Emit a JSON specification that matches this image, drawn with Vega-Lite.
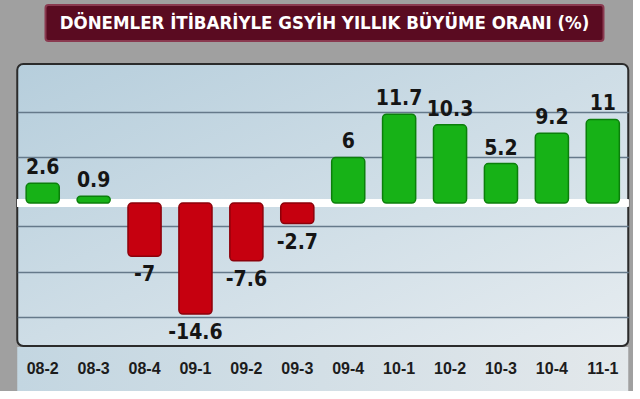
{
  "$schema": "https://vega.github.io/schema/vega-lite/v6.json",
  "background": "#a0a0a0",
  "padding": {"left": 12, "top": 4, "right": 0, "bottom": 0},
  "config": {"view": {"stroke": null}},
  "datasets": {
    "gdp": [
      {"period": "08-2", "value": 2.6},
      {"period": "08-3", "value": 0.9},
      {"period": "08-4", "value": -7},
      {"period": "09-1", "value": -14.6},
      {"period": "09-2", "value": -7.6},
      {"period": "09-3", "value": -2.7},
      {"period": "09-4", "value": 6},
      {"period": "10-1", "value": 11.7},
      {"period": "10-2", "value": 10.3},
      {"period": "10-3", "value": 5.2},
      {"period": "10-4", "value": 9.2},
      {"period": "11-1", "value": 11}
    ]
  },
  "center": true,
  "spacing": 21,
  "vconcat": [
    {
      "width": 558,
      "height": 36,
      "data": {"values": [{"t": "DÖNEMLER İTİBARİYLE GSYİH YILLIK BÜYÜME ORANI (%)"}]},
      "view": {"fill": "#5a0b21", "stroke": "#8a3a50", "strokeWidth": 2, "cornerRadius": 3},
      "mark": {"type": "text", "color": "#ffffff", "font": "DejaVu Sans Condensed", "fontWeight": "bold", "fontSize": 18.5},
      "encoding": {"text": {"field": "t", "type": "nominal"}}
    },
    {
      "spacing": 0,
      "vconcat": [
        {
          "width": 611,
          "height": 282,
          "data": {"name": "gdp"},
          "view": {
            "fill": {"gradient": "linear", "x1": 0, "y1": 0, "x2": 1, "y2": 1, "stops": [{"offset": 0, "color": "#b6cedc"}, {"offset": 1, "color": "#e6ecf0"}]},
            "stroke": "#2b2b2b",
            "strokeWidth": 2,
            "cornerRadius": 6
          },
          "layer": [
            {
              "mark": {"type": "rule", "color": "#ffffff", "strokeWidth": 7},
              "encoding": {"y": {"datum": 0, "type": "quantitative"}}
            },
            {
              "mark": {"type": "bar", "cornerRadius": 4, "strokeWidth": 1.5},
              "encoding": {
                "x": {"field": "period", "type": "ordinal", "sort": null, "axis": null, "scale": {"paddingInner": 0.35, "paddingOuter": 0.175}},
                "y": {
                  "field": "value",
                  "type": "quantitative",
                  "scale": {"domain": [-18.8, 18.3], "nice": false, "zero": false},
                  "axis": {"values": [-15, -12, -9, -6, -3, 3, 6, 9, 12, 15], "labels": false, "ticks": false, "domain": false, "title": null, "grid": true, "gridColor": "#65798a", "gridWidth": 1.6}
                },
                "y2": {"datum": 0},
                "fill": {"condition": {"test": "datum.value >= 0", "value": "#17b217"}, "value": "#c6000f"},
                "stroke": {"condition": {"test": "datum.value >= 0", "value": "#0b7f0b"}, "value": "#8c000a"}
              }
            },
            {
              "transform": [{"filter": "datum.value >= 0"}],
              "mark": {"type": "text", "baseline": "alphabetic", "dy": -9, "font": "DejaVu Sans Condensed", "fontWeight": "bold", "fontSize": 21, "color": "#151515"},
              "encoding": {
                "x": {"field": "period", "type": "ordinal", "sort": null},
                "y": {"field": "value", "type": "quantitative"},
                "text": {"field": "value", "type": "nominal"}
              }
            },
            {
              "transform": [{"filter": "datum.value < 0"}],
              "mark": {"type": "text", "baseline": "top", "dy": 8, "font": "DejaVu Sans Condensed", "fontWeight": "bold", "fontSize": 21, "color": "#151515"},
              "encoding": {
                "x": {"field": "period", "type": "ordinal", "sort": null},
                "y": {"field": "value", "type": "quantitative"},
                "text": {"field": "value", "type": "nominal"}
              }
            }
          ]
        },
        {
          "width": 611,
          "height": 44,
          "data": {"name": "gdp"},
          "view": {
            "fill": {"gradient": "linear", "x1": 0, "y1": 0, "x2": 1, "y2": 0, "stops": [{"offset": 0, "color": "#c3d6e1"}, {"offset": 1, "color": "#e3e8eb"}]},
            "stroke": null
          },
          "mark": {"type": "text", "font": "Liberation Sans", "fontWeight": "bold", "fontSize": 16, "color": "#1c1c1c"},
          "encoding": {
            "x": {"field": "period", "type": "ordinal", "sort": null, "axis": null, "scale": {"paddingInner": 0.35, "paddingOuter": 0.175}},
            "text": {"field": "period", "type": "nominal"}
          }
        }
      ]
    }
  ]
}
